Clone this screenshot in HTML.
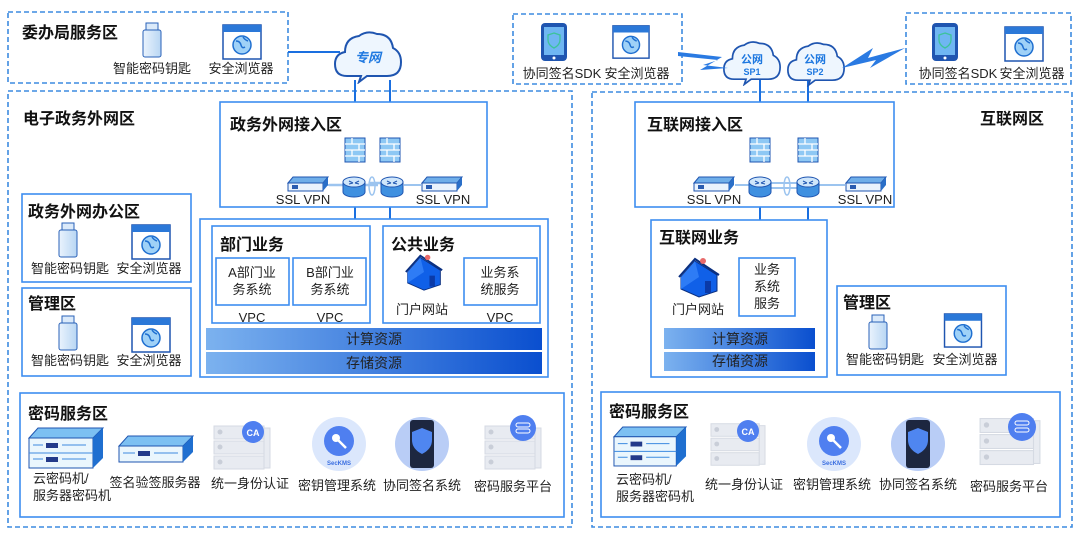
<!DOCTYPE html>
<html><head><meta charset="utf-8"><style>
html,body{margin:0;padding:0;background:#fff;width:1080px;height:540px;overflow:hidden}
svg{display:block}
text{font-family:"Liberation Sans","Noto Sans CJK SC",sans-serif;fill:#222}
.t{font-weight:bold;font-size:16px;fill:#111}
.l{font-size:13px}
.d{fill:none;stroke:#3d8be0;stroke-width:1.6;stroke-dasharray:5,3}
.b{fill:#fff;stroke:#3d8ef0;stroke-width:1.6}
.ln{stroke:#1a6fe0;stroke-width:2;fill:none}
</style></head><body>
<svg width="1080" height="540" viewBox="0 0 1080 540">
<defs>
<linearGradient id="bar" x1="0" x2="1"><stop offset="0" stop-color="#7cb2ef"/><stop offset="1" stop-color="#0a4fcf"/></linearGradient>
<linearGradient id="usb" x1="0" x2="1"><stop offset="0" stop-color="#eaf3fd"/><stop offset="1" stop-color="#b8d6f3"/></linearGradient>
<symbol id="usbk" viewBox="0 0 20 36"><rect x="4" y="1" width="12" height="8" fill="#dbeafa" stroke="#2a62b8"/><rect x="1" y="8" width="18" height="27" rx="2" fill="url(#usb)" stroke="#2a62b8"/></symbol>
<symbol id="brw" viewBox="0 0 40 36"><rect x="1" y="1" width="38" height="34" fill="#fff" stroke="#1f55b0" stroke-width="1.5"/><rect x="1" y="1" width="38" height="7" fill="#2b78d8"/><circle cx="20" cy="21" r="9" fill="#9fd1f7" stroke="#1f6fd0" stroke-width="1.5"/><path d="M14 17q4 0 5 4t4 2M21 13q2 3 5 4" stroke="#1f6fd0" fill="none" stroke-width="1.5"/></symbol>
<symbol id="phn" viewBox="0 0 28 40"><rect x="1" y="1" width="26" height="38" rx="4" fill="#1f55b0"/><rect x="4" y="5" width="20" height="28" fill="#6fb6f2"/><path d="M14 11l6 2v5q0 5-6 8q-6-3-6-8v-5z" fill="none" stroke="#3cc39a" stroke-width="1.3"/><circle cx="14" cy="36" r="1.5" fill="#fff"/></symbol>
<symbol id="fw" viewBox="0 0 22 26"><rect x="1" y="1" width="20" height="24" fill="#8ec8f4" stroke="#1f55b0"/><path d="M1 7h20M1 13h20M1 19h20M8 1v6M15 7v6M8 13v6M15 19v6" stroke="#fff" stroke-width="1.3"/></symbol>
<symbol id="rt" viewBox="0 0 24 22"><path d="M1 6v10a11 5 0 0 0 22 0V6z" fill="#3f90e0" stroke="#1f55b0"/><ellipse cx="12" cy="6" rx="11" ry="5" fill="#cfe6fb" stroke="#1f55b0"/><path d="M7 5l4 2M17 5l-4 2M7 8l4-1M17 8l-4-1" stroke="#1f55b0"/></symbol>
<symbol id="vpn" viewBox="0 0 42 16"><path d="M6 1h35l-5 6H1z" fill="#6faee9" stroke="#1f55b0"/><rect x="1" y="7" width="35" height="8" fill="#eaf3fd" stroke="#1f55b0"/><path d="M36 7l5-6v8l-5 6z" fill="#2a6fc8"/><rect x="5" y="9" width="6" height="4" fill="#2a5cb0"/></symbol>
<symbol id="house" viewBox="0 0 44 44"><path d="M4 22L18 6l22 14v16L22 42L4 34z" fill="#1060e8" stroke="#0a2f80"/><path d="M4 22L18 6l4 16L4 34z" fill="#2e7cf5"/><path d="M2 22L18 4l24 16" fill="none" stroke="#0a2f80" stroke-width="2"/><rect x="28" y="26" width="6" height="12" fill="#0a3aa8"/><circle cx="26" cy="6" r="3" fill="#e86a6a"/></symbol>
<symbol id="srv" viewBox="0 0 76 42"><path d="M10 1h65l-10 10H1z" fill="#7cc0f2" stroke="#1f55b0"/><rect x="1" y="11" width="64" height="30" fill="#eaf6fd" stroke="#1f55b0"/><path d="M65 11l10-10v30l-10 10z" fill="#1f6fd0"/><rect x="18" y="16" width="12" height="5" fill="#233a8a"/><rect x="18" y="30" width="12" height="5" fill="#233a8a"/><path d="M1 26h64M5 18h10M34 18h24M5 32h10M34 32h24" stroke="#3d8be0"/></symbol>
<symbol id="srv1" viewBox="0 0 76 28"><path d="M10 1h65l-10 10H1z" fill="#7cc0f2" stroke="#1f55b0"/><rect x="1" y="11" width="64" height="16" fill="#eaf6fd" stroke="#1f55b0"/><path d="M65 11l10-10v16l-10 10z" fill="#1f6fd0"/><rect x="20" y="16" width="12" height="5" fill="#233a8a"/><path d="M5 18h12M36 18h24" stroke="#3d8be0"/></symbol>
<symbol id="rack" viewBox="0 0 58 50"><g fill="#e8ebf1" stroke="#d5dae3"><rect x="1" y="4" width="50" height="13"/><rect x="1" y="19" width="50" height="13"/><rect x="1" y="34" width="50" height="13"/><rect x="51" y="6" width="6" height="40"/></g><circle cx="7" cy="10" r="2.5" fill="#c9ced8"/><circle cx="7" cy="25" r="2.5" fill="#c9ced8"/><circle cx="7" cy="40" r="2.5" fill="#c9ced8"/></symbol>
<symbol id="cloud" viewBox="0 0 70 54"><path d="M14 46q-12 0-12-12q0-10 10-12q0-14 14-16q8-6 18-2q14 0 16 14q8 4 8 14q0 14-14 14H34l-8 6l2-6z" fill="#eef6fe" stroke="#1f55b0" stroke-width="2"/></symbol>
</defs>

<rect class="d" x="8" y="12" width="280" height="71"/>
<rect class="d" x="513" y="14" width="169" height="70"/>
<rect class="d" x="906" y="13" width="165" height="71"/>
<rect class="d" x="8" y="91" width="564" height="436"/>
<rect class="d" x="592" y="92" width="480" height="435"/>

<path class="ln" d="M288 52H340"/>
<path class="ln" d="M355 80V220M390 80V220M760 80V220M808 80V220"/>

<text class="t" x="22" y="38">委办局服务区</text>
<use href="#usbk" x="142" y="22" width="20" height="36"/>
<use href="#brw" x="222" y="24" width="40" height="36"/>
<text class="l" x="152" y="73" text-anchor="middle">智能密码钥匙</text>
<text class="l" x="241" y="73" text-anchor="middle">安全浏览器</text>

<use href="#phn" x="540" y="22" width="28" height="40"/>
<use href="#brw" x="612" y="24" width="38" height="36"/>
<text class="l" x="562" y="78" text-anchor="middle">协同签名SDK</text>
<text class="l" x="637" y="78" text-anchor="middle">安全浏览器</text>
<use href="#phn" x="931" y="22" width="28" height="40"/>
<use href="#brw" x="1004" y="26" width="40" height="36"/>
<text class="l" x="958" y="78" text-anchor="middle">协同签名SDK</text>
<text class="l" x="1032" y="78" text-anchor="middle">安全浏览器</text>

<use href="#cloud" x="333" y="30" width="70" height="54"/>
<text x="368" y="62" text-anchor="middle" style="font-size:13px;font-weight:bold;font-style:italic;fill:#1e78e0">专网</text>
<use href="#cloud" x="722" y="40" width="60" height="46"/>
<text x="752" y="63" text-anchor="middle" style="font-size:11px;font-weight:bold;fill:#1e78e0">公网</text>
<text x="752" y="75" text-anchor="middle" style="font-size:9px;font-weight:bold;fill:#1e78e0">SP1</text>
<use href="#cloud" x="786" y="41" width="60" height="46"/>
<text x="815" y="63" text-anchor="middle" style="font-size:11px;font-weight:bold;fill:#1e78e0">公网</text>
<text x="815" y="75" text-anchor="middle" style="font-size:9px;font-weight:bold;fill:#1e78e0">SP2</text>
<path d="M678 52L722 57L700 70L728 68L703 65L718 60L678 56z" fill="#2a7ae2"/>
<path d="M905 48L868 58L873 48L842 68L876 60L870 68z" fill="#2a7ae2"/>

<text class="t" x="23" y="124">电子政务外网区</text>
<rect class="b" x="220" y="102" width="267" height="105"/>
<text class="t" x="230" y="130">政务外网接入区</text>
<use href="#fw" x="344" y="137" width="22" height="26"/>
<use href="#fw" x="379" y="137" width="22" height="26"/>
<path d="M329 185H378M370 183H390" stroke="#9cc4ef" stroke-width="2.5"/>
<path d="M404 185H421M297 185H342" stroke="#9cc4ef" stroke-width="2"/>
<ellipse cx="372" cy="186" rx="3" ry="9" fill="none" stroke="#9cc4ef" stroke-width="1.5"/>
<use href="#rt" x="342" y="176" width="24" height="22"/>
<use href="#rt" x="380" y="176" width="24" height="22"/>
<use href="#vpn" x="287" y="176" width="42" height="16"/>
<use href="#vpn" x="421" y="176" width="42" height="16"/>
<text class="l" x="303" y="204" text-anchor="middle">SSL VPN</text>
<text class="l" x="443" y="204" text-anchor="middle">SSL VPN</text>

<rect class="b" x="22" y="194" width="169" height="88"/>
<text class="t" x="28" y="217">政务外网办公区</text>
<use href="#usbk" x="58" y="222" width="20" height="36"/>
<use href="#brw" x="131" y="224" width="40" height="36"/>
<text class="l" x="70" y="273" text-anchor="middle">智能密码钥匙</text>
<text class="l" x="149" y="273" text-anchor="middle">安全浏览器</text>
<rect class="b" x="22" y="288" width="169" height="88"/>
<text class="t" x="28" y="309">管理区</text>
<use href="#usbk" x="58" y="315" width="20" height="36"/>
<use href="#brw" x="131" y="317" width="40" height="36"/>
<text class="l" x="70" y="365" text-anchor="middle">智能密码钥匙</text>
<text class="l" x="149" y="365" text-anchor="middle">安全浏览器</text>

<rect class="b" x="200" y="219" width="348" height="158"/>
<rect class="b" x="212" y="226" width="158" height="97"/>
<text class="t" x="220" y="250">部门业务</text>
<rect class="b" x="216" y="258" width="73" height="47"/>
<rect class="b" x="293" y="258" width="73" height="47"/>
<text class="l" x="252" y="277" text-anchor="middle">A部门业</text>
<text class="l" x="252" y="294" text-anchor="middle">务系统</text>
<text class="l" x="330" y="277" text-anchor="middle">B部门业</text>
<text class="l" x="330" y="294" text-anchor="middle">务系统</text>
<text class="l" x="252" y="322" text-anchor="middle">VPC</text>
<text class="l" x="330" y="322" text-anchor="middle">VPC</text>
<rect class="b" x="383" y="226" width="157" height="97"/>
<text class="t" x="391" y="250">公共业务</text>
<use href="#house" x="403" y="252" width="42" height="40"/>
<text class="l" x="422" y="314" text-anchor="middle">门户网站</text>
<rect class="b" x="464" y="258" width="73" height="47"/>
<text class="l" x="500" y="277" text-anchor="middle">业务系</text>
<text class="l" x="500" y="294" text-anchor="middle">统服务</text>
<text class="l" x="500" y="322" text-anchor="middle">VPC</text>
<rect x="206" y="328" width="336" height="22" fill="url(#bar)"/>
<rect x="206" y="352" width="336" height="22" fill="url(#bar)"/>
<text class="l" x="374" y="344" text-anchor="middle" style="font-size:14px">计算资源</text>
<text class="l" x="374" y="368" text-anchor="middle" style="font-size:14px">存储资源</text>

<rect class="b" x="20" y="393" width="544" height="124"/>
<text class="t" x="28" y="419">密码服务区</text>
<use href="#srv" x="28" y="427" width="76" height="42"/>
<use href="#srv1" x="118" y="435" width="76" height="28"/>
<use href="#rack" x="213" y="422" width="58" height="50"/>
<circle cx="253" cy="432" r="11" fill="#4f7ff0"/><text x="253" y="436" text-anchor="middle" style="font-size:9px;fill:#fff;font-weight:bold">CA</text>
<circle cx="339" cy="444" r="27" fill="#dbe7fc"/><circle cx="339" cy="441" r="15" fill="#4f7ff0"/><circle cx="336" cy="438" r="4" fill="#fff"/><path d="M338 440l8 8" stroke="#fff" stroke-width="2.5"/><text x="339" y="465" text-anchor="middle" style="font-size:6px;fill:#3b6fe0;font-weight:bold">SecKMS</text>
<circle cx="422" cy="444" r="27" fill="#b9cdf6"/><rect x="410" y="420" width="24" height="48" rx="3" fill="#1d2740"/><path d="M422 428l10 4v8q0 9-10 14q-10-5-10-14v-8z" fill="#4f86f0"/>
<use href="#rack" x="483" y="422" width="60" height="50"/>
<circle cx="523" cy="428" r="13" fill="#4f7ff0"/><rect x="516" y="423" width="14" height="4" rx="2" fill="none" stroke="#fff"/><rect x="516" y="429" width="14" height="4" rx="2" fill="none" stroke="#fff"/>
<text class="l" x="33" y="483">云密码机/</text>
<text class="l" x="33" y="500">服务器密码机</text>
<text class="l" x="155" y="487" text-anchor="middle">签名验签服务器</text>
<text class="l" x="250" y="488" text-anchor="middle">统一身份认证</text>
<text class="l" x="337" y="490" text-anchor="middle">密钥管理系统</text>
<text class="l" x="422" y="490" text-anchor="middle">协同签名系统</text>
<text class="l" x="513" y="491" text-anchor="middle">密码服务平台</text>

<text class="t" x="980" y="124">互联网区</text>
<rect class="b" x="635" y="102" width="259" height="105"/>
<text class="t" x="647" y="130">互联网接入区</text>
<use href="#fw" x="749" y="137" width="22" height="26"/>
<use href="#fw" x="797" y="137" width="22" height="26"/>
<path d="M735 185H750M770 183H797M770 188H797M818 185H845" stroke="#9cc4ef" stroke-width="2"/>
<ellipse cx="787" cy="186" rx="3" ry="9" fill="none" stroke="#9cc4ef" stroke-width="1.5"/>
<use href="#rt" x="748" y="176" width="24" height="22"/>
<use href="#rt" x="796" y="176" width="24" height="22"/>
<use href="#vpn" x="693" y="176" width="42" height="16"/>
<use href="#vpn" x="845" y="176" width="42" height="16"/>
<text class="l" x="714" y="204" text-anchor="middle">SSL VPN</text>
<text class="l" x="865" y="204" text-anchor="middle">SSL VPN</text>

<rect class="b" x="651" y="220" width="176" height="157"/>
<text class="t" x="659" y="243">互联网业务</text>
<use href="#house" x="677" y="255" width="44" height="44"/>
<text class="l" x="698" y="314" text-anchor="middle">门户网站</text>
<rect class="b" x="739" y="258" width="56" height="58"/>
<text class="l" x="767" y="274" text-anchor="middle">业务</text>
<text class="l" x="767" y="291" text-anchor="middle">系统</text>
<text class="l" x="767" y="308" text-anchor="middle">服务</text>
<rect x="664" y="328" width="151" height="21" fill="url(#bar)"/>
<rect x="664" y="352" width="151" height="19" fill="url(#bar)"/>
<text class="l" x="740" y="344" text-anchor="middle" style="font-size:14px">计算资源</text>
<text class="l" x="740" y="366" text-anchor="middle" style="font-size:14px">存储资源</text>

<rect class="b" x="837" y="286" width="169" height="89"/>
<text class="t" x="843" y="308">管理区</text>
<use href="#usbk" x="868" y="314" width="20" height="36"/>
<use href="#brw" x="943" y="313" width="40" height="35"/>
<text class="l" x="885" y="364" text-anchor="middle">智能密码钥匙</text>
<text class="l" x="965" y="364" text-anchor="middle">安全浏览器</text>

<rect class="b" x="601" y="392" width="459" height="125"/>
<text class="t" x="609" y="417">密码服务区</text>
<use href="#srv" x="613" y="426" width="74" height="41"/>
<use href="#rack" x="710" y="418" width="56" height="52"/>
<circle cx="748" cy="431" r="11" fill="#4f7ff0"/><text x="748" y="435" text-anchor="middle" style="font-size:9px;fill:#fff;font-weight:bold">CA</text>
<circle cx="834" cy="444" r="27" fill="#dbe7fc"/><circle cx="834" cy="441" r="15" fill="#4f7ff0"/><circle cx="831" cy="438" r="4" fill="#fff"/><path d="M833 440l8 8" stroke="#fff" stroke-width="2.5"/><text x="834" y="465" text-anchor="middle" style="font-size:6px;fill:#3b6fe0;font-weight:bold">SecKMS</text>
<circle cx="918" cy="444" r="27" fill="#b9cdf6"/><rect x="906" y="420" width="24" height="48" rx="3" fill="#1d2740"/><path d="M918 428l10 4v8q0 9-10 14q-10-5-10-14v-8z" fill="#4f86f0"/>
<use href="#rack" x="979" y="414" width="62" height="54"/>
<circle cx="1022" cy="427" r="14" fill="#4f7ff0"/><rect x="1015" y="421" width="14" height="4" rx="2" fill="none" stroke="#fff"/><rect x="1015" y="428" width="14" height="4" rx="2" fill="none" stroke="#fff"/>
<text class="l" x="616" y="484">云密码机/</text>
<text class="l" x="616" y="501">服务器密码机</text>
<text class="l" x="744" y="489" text-anchor="middle">统一身份认证</text>
<text class="l" x="832" y="489" text-anchor="middle">密钥管理系统</text>
<text class="l" x="918" y="489" text-anchor="middle">协同签名系统</text>
<text class="l" x="1009" y="491" text-anchor="middle">密码服务平台</text>
</svg>
</body></html>
